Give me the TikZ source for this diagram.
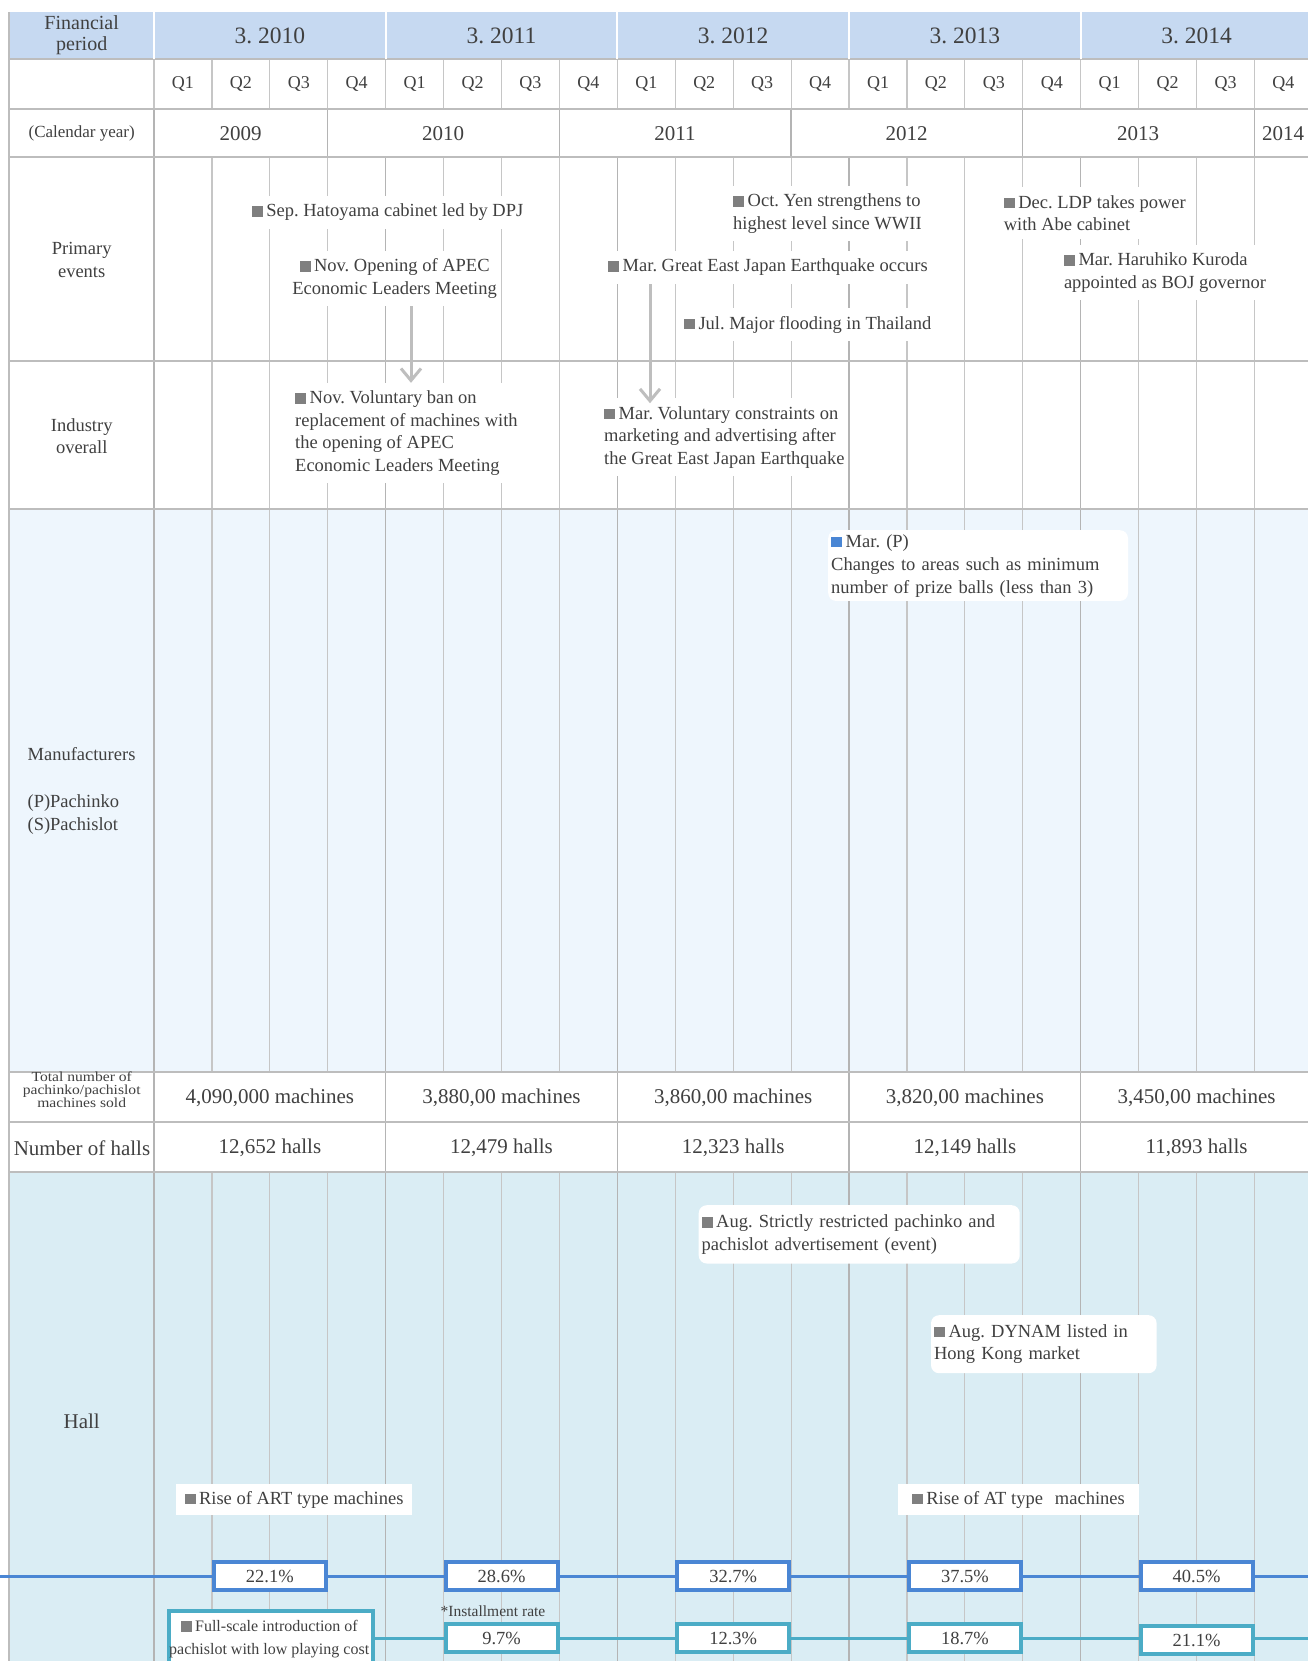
\documentclass[tikz,border=0pt]{standalone}
\usepackage{fontspec}
\setmainfont{Liberation Serif}
\usetikzlibrary{arrows.meta}
\definecolor{hdr}{HTML}{C6D9F1}
\definecolor{mfg}{HTML}{EEF6FD}
\definecolor{hallbg}{HTML}{DAEDF4}
\definecolor{grid}{HTML}{C6C6C6}
\definecolor{gridd}{HTML}{B4B4B4}
\definecolor{gridr}{HTML}{BDBDBD}
\definecolor{txt}{HTML}{404040}
\definecolor{bul}{HTML}{7F7F7F}
\definecolor{bblue}{HTML}{4A86D4}
\definecolor{tealc}{HTML}{4BACC6}
\definecolor{arrg}{HTML}{BEBEBE}
\newcommand{\bsq}{{\color{bul}\rule{11pt}{10.5pt}}\hspace{3.5pt}}
\newcommand{\bsqb}{{\color{bblue}\rule{11pt}{10.5pt}}\hspace{3.5pt}}
\newcommand{\fEv}{\fontsize{18.5}{22.5}\selectfont}
\newcommand{\fFY}{\fontsize{23.5}{26}\selectfont}
\newcommand{\fQ}{\fontsize{18}{21}\selectfont}
\newcommand{\fCal}{\fontsize{17}{20}\selectfont}
\newcommand{\fBig}{\fontsize{21}{24}\selectfont}
\newcommand{\fFin}{\fontsize{20}{21.5}\selectfont}
\newcommand{\fMfg}{\fontsize{18.5}{23.5}\selectfont}
\newcommand{\fSm}{\fontsize{16}{22.3}\selectfont}
\newcommand{\fInst}{\fontsize{15.5}{18}\selectfont}
\newcommand{\fTot}{\fontsize{13.8}{10.6}\selectfont}
\tikzset{
  lab/.style={text=txt, inner sep=0pt, align=center},
  ev/.style={text=txt, fill=white, inner xsep=3pt, inner ysep=8pt, align=left, font=\fEv},
  rbox/.style={text=txt, fill=white, rounded corners=8pt, inner xsep=3pt, inner ysep=4pt, align=left, font=\fEv},
  sbox/.style={text=txt, fill=white, inner xsep=4pt, inner ysep=3pt, font=\fEv},
  pct/.style={draw=bblue, line width=4pt, fill=white, minimum width=112pt, minimum height=28pt, text=txt, font=\fEv, inner sep=0pt},
  pctt/.style={pct, draw=tealc},
  arr/.style={draw=arrg, line width=3pt, -{Straight Barb[length=12pt,width=20pt]}},
  gl/.style={draw=grid, line width=1.2pt},
  gld/.style={draw=gridd, line width=1.3pt},
  rowl/.style={draw=gridr, line width=2pt},
  bline/.style={draw=bblue, line width=3.5pt},
  tline/.style={draw=tealc, line width=3.5pt}
}
\begin{document}
\frenchspacing
\begin{tikzpicture}[x=1pt,y=-1pt]
\clip (0,0) rectangle (1308,1661);
\fill[white] (0,0) rectangle (1308,1661);
% backgrounds
\fill[hdr] (9.3,12.3) rectangle (1308,59);
\fill[mfg] (9.3,509) rectangle (1308,1072);
\fill[hallbg] (9.3,1172.3) rectangle (1308,1661);
% vertical grid lines
\foreach \i in {0,...,20}{
  \draw[gl] ({154+57.92*\i},59) -- ({154+57.92*\i},109.3);
  \draw[gl] ({154+57.92*\i},156.7) -- ({154+57.92*\i},1072);
  \draw[gl] ({154+57.92*\i},1172.3) -- ({154+57.92*\i},1661);
}
\foreach \i in {0,4,...,20}{
  \draw[gld] ({154+57.92*\i},156.7) -- ({154+57.92*\i},1072);
  \draw[gld] ({154+57.92*\i},1072) -- ({154+57.92*\i},1172.3);
  \draw[gld] ({154+57.92*\i},1172.3) -- ({154+57.92*\i},1661);
}
\foreach \i in {0,3,7,11,15,19}{
  \draw[gld] ({154+57.92*\i},109.3) -- ({154+57.92*\i},156.7);
}
% horizontal row lines
\foreach \yy in {59,109.3,156.7,360.7,509,1072,1122.3,1172.3}{
  \draw[rowl] (9.3,\yy) -- (1308,\yy);
}
\draw[rowl] (9.3,12.3) -- (9.3,1661);
% header separators
\foreach \i in {0,4,...,16}{
  \draw[white, line width=2pt] ({154+57.92*\i},12.3) -- ({154+57.92*\i},59);
}
% header texts
\node[lab, font=\fFin] (fp) at (81.7,35) {Financial\\period};
\foreach \t [count=\k from 0] in {3. 2010,3. 2011,3. 2012,3. 2013,3. 2014}
  \node[lab, font=\fFY] (fy\k) at ({154+57.92*(4*\k+2)},36) {\t};
\foreach \i in {0,...,19}{
  \pgfmathtruncatemacro\qq{mod(\i,4)+1}
  \node[lab, font=\fQ] (q\i) at ({154+57.92*(\i+0.5)},84.5) {Q\qq};
}
\node[lab, font=\fCal] (caly) at (81.7,133) {(Calendar year)};
\foreach \t/\xx [count=\k] in {2009/240.7,2010/443.2,2011/674.9,2012/906.6,2013/1138.2,2014/1283}
  \node[lab, font=\fBig] (cy\k) at (\xx,134) {\t};
% row labels
\node[lab, font=\fEv, align=center] (prim) at (81.7,260) {Primary\\events};
\node[lab, font=\fEv, align=center] (ind) at (81.7,436) {Industry\\overall};
\node[lab, font=\fMfg, align=left, anchor=west] (mfgl) at (27.4,791) {Manufacturers\\[23.5pt](P)Pachinko\\(S)Pachislot};
\node[lab] (totl) at (81.7,1091) {\scalebox{1.13}[1]{\fTot\begin{tabular}{@{}c@{}}Total number of\\pachinko/pachislot\\machines sold\end{tabular}}};
\node[lab, font=\fBig] (nhl) at (82,1148) {Number of halls};
\node[lab, font=\fBig] (hall) at (81.7,1421) {Hall};
% counts
\foreach \t [count=\k from 0] in {{4,090,000 machines},{3,880,00 machines},{3,860,00 machines},{3,820,00 machines},{3,450,00 machines}}
  \node[lab, font=\fBig] (m\k) at ({154+57.92*(4*\k+2)},1098) {\t};
\foreach \t [count=\k from 0] in {{12,652 halls},{12,479 halls},{12,323 halls},{12,149 halls},{11,893 halls}}
  \node[lab, font=\fBig] (h\k) at ({154+57.92*(4*\k+2)},1148) {\t};
% primary events
\node[ev, anchor=west] (sep) at (248.7,212.5) {\bsq Sep. Hatoyama cabinet led by DPJ};
\node[ev, align=center] (apec) at (394.6,278.4) {\bsq Nov. Opening of APEC\\Economic Leaders Meeting};
\node[ev, anchor=west] (quake) at (605,267.5) {\bsq Mar. Great East Japan Earthquake occurs};
\node[ev, anchor=west] (yen) at (730,213.4) {\bsq Oct. Yen strengthens to\\highest level since WWII};
\node[ev, anchor=west] (thai) at (680.8,324.8) {\bsq Jul. Major flooding in Thailand};
\node[ev, anchor=west] (ldp) at (1000.6,213.2) {\bsq Dec. LDP takes power\\with Abe cabinet};
\node[ev, anchor=west] (kur) at (1060.8,272.7) {\bsq Mar. Haruhiko Kuroda\\appointed as BOJ governor};
% industry overall
\node[ev, anchor=west] (ban) at (292,433.2) {\bsq Nov. Voluntary ban on\\replacement of machines with\\the opening of APEC\\Economic Leaders Meeting};
\node[ev, anchor=west] (cons) at (601,437.3) {\bsq Mar. Voluntary constraints on\\marketing and advertising after\\the Great East Japan Earthquake};
\coordinate (ax1) at (411,0);
\coordinate (ax2) at (650,0);
\draw[arr] (apec.south -| ax1) -- (ban.north -| ax1);
\draw[arr, shorten >=-5pt] (quake.south -| ax2) -- (cons.north -| ax2);
% manufacturers
\node[rbox, anchor=north west, text width=293.8pt, minimum height=70.7pt, font=\fontsize{18.5}{23}\selectfont] (marp) at (828,530) {\bsqb Mar. (P)\\Changes to areas such as minimum\\number of prize balls (less than 3)};
% hall
\node[rbox, anchor=north west, text width=315pt, minimum height=58.3pt] (aug1) at (698.5,1205) {\bsq Aug. Strictly restricted pachinko and\\pachislot advertisement (event)};
\node[rbox, anchor=north west, text width=219.6pt, minimum height=58pt] (aug2) at (930.8,1315) {\bsq Aug. DYNAM listed in\\Hong Kong market};
\node[sbox, anchor=north west, minimum width=235.6pt, minimum height=30.7pt] (art) at (176,1484) {\bsq Rise of ART type machines};
\node[sbox, anchor=north west, minimum width=240.3pt, minimum height=30.7pt] (atm) at (898,1484) {\bsq Rise of AT type\hspace{12pt}machines};
% installment rate lines
\coordinate (bL) at (0,1576.3);
\coordinate (bR) at (1308,1576.3);
\coordinate (tR) at (1308,1638.3);
\foreach \t [count=\k from 0] in {22.1\%,28.6\%,32.7\%,37.5\%,40.5\%}
  \node[pct] (b\k) at ({154+57.92*(4*\k+2)},1576.3) {\t};
\draw[bline] (bL) -- (b0) -- (b1) -- (b2) -- (b3) -- (b4) -- (bR);
\node[draw=tealc, line width=4pt, fill=white, minimum width=203.5pt, minimum height=80pt, anchor=north west] (fsbox) at (167.4,1609.3) {};
\node[lab, font=\fSm] (fstxt) at (269.2,1639) {\bsq Full-scale introduction of\\pachislot with low playing cost};
\node[pctt] (t1) at ({154+57.92*6},1638.3) {9.7\%};
\node[pctt] (t2) at ({154+57.92*10},1638.3) {12.3\%};
\node[pctt] (t3) at ({154+57.92*14},1638.3) {18.7\%};
\node[pctt] (t4) at ({154+57.92*18},1640.3) {21.1\%};
\draw[tline] (fsbox.east |- tR) -- (t1) -- (t2) -- (t3) -- (t4.west |- tR);
\draw[tline] (t4.east |- tR) -- (tR);
\node[lab, font=\fInst] (inst) at (493,1611) {*Installment rate};
\end{tikzpicture}
\end{document}
